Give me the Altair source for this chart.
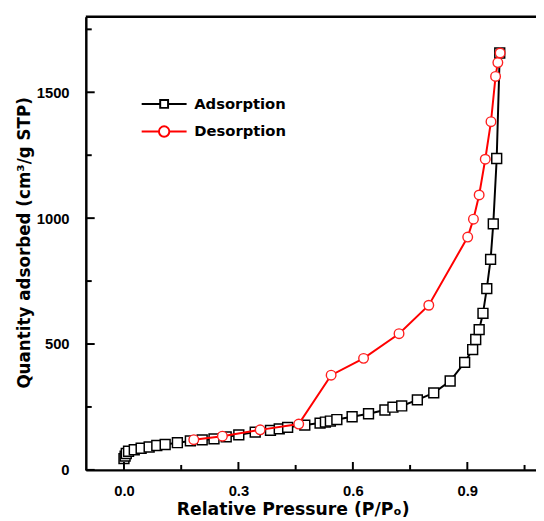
import altair as alt
import pandas as pd

# ---------------- data ----------------
series_names = ["Adsorption", "Desorption"]
series_colors = ["#000000", "#ff0000"]

ads_x = [0.000, 0.003, 0.006, 0.012, 0.027, 0.045, 0.066, 0.086, 0.108, 0.140,
         0.174, 0.205, 0.236, 0.268, 0.301, 0.344, 0.384, 0.407, 0.429, 0.474,
         0.514, 0.528, 0.541, 0.558, 0.598, 0.641, 0.684, 0.705, 0.728, 0.769,
         0.812, 0.855, 0.893, 0.914, 0.922, 0.931, 0.941, 0.951, 0.961, 0.968,
         0.977, 0.985]
ads_y = [45, 55, 65, 74, 80, 86, 91, 97, 101, 108,
         115, 119, 123, 131, 139, 150, 157, 163, 169, 178,
         186, 190, 194, 200, 211, 223, 238, 249, 254, 278,
         306, 353, 427, 478, 518, 557, 622, 720, 836, 977,
         1237, 1656]

des_x = [0.183, 0.258, 0.357, 0.458, 0.543, 0.628, 0.721, 0.799, 0.901, 0.916,
         0.931, 0.947, 0.962, 0.974, 0.980, 0.986]
des_y = [120, 134, 159, 182, 376, 443, 541, 654, 925, 996,
         1092, 1234, 1383, 1563, 1618, 1656]

x_major = [0.0, 0.3, 0.6, 0.9]
x_minor = [0.15, 0.45, 0.75, 1.05]
y_major = [0, 500, 1000, 1500]
y_minor = [250, 750, 1250, 1750]
X_DOMAIN = [-0.1, 1.08]
Y_DOMAIN = [0, 1800]

# legend symbols: line - marker - line
legend_paths = [
    "M-2.85,0H-0.5M0.5,0H2.85M-0.5,-0.5H0.5V0.5H-0.5Z",
    "M-2.85,0H-0.66M0.66,0H2.85M0.66,0A0.66,0.66,0,1,1,-0.66,0A0.66,0.66,0,1,1,0.66,0Z",
]

W, H = 457, 460

ads = pd.DataFrame({"p": ads_x, "q": ads_y, "series": series_names[0]})
des = pd.DataFrame({"p": des_x, "q": des_y, "series": series_names[1]})
both = pd.concat([ads, des], ignore_index=True)

xt_major = pd.DataFrame({"p": x_major})
xt_minor = pd.DataFrame({"p": x_minor})
yt_major = pd.DataFrame({"q": y_major})
yt_minor = pd.DataFrame({"q": y_minor})
top_df = pd.DataFrame({"q": [Y_DOMAIN[1]]})

xs = alt.Scale(domain=X_DOMAIN, nice=False, zero=False)
ys = alt.Scale(domain=Y_DOMAIN, nice=False, zero=False)

x_axis = alt.Axis(
    values=x_major, format=".1f", title="Relative Pressure (P/Pₒ)",
    labelFont="Liberation Sans", labelFontSize=15, labelFontWeight="bold",
    labelColor="black", labelPadding=14, labelBaseline="top",
    titleFont="DejaVu Sans", titleFontSize=17.5, titleFontWeight="bold",
    titleColor="black", titleX=210, titleY=40, titleBaseline="middle",
    titleAlign="center", tickSize=0, ticks=False, grid=False,
    domainColor="black", domainWidth=2.5,
)
y_axis = alt.Axis(
    values=y_major, format="d", title="Quantity adsorbed (cm³/g STP)",
    labelFont="Liberation Sans", labelFontSize=15, labelFontWeight="bold",
    labelColor="black", labelPadding=17,
    titleFont="DejaVu Sans", titleFontSize=17, titleFontWeight="bold",
    titleColor="black", titleX=-62, titleY=229, titleAngle=-90,
    titleBaseline="middle", titleAlign="center",
    tickSize=0, ticks=False, grid=False,
    domainColor="black", domainWidth=2.5,
)


def X(f="p:Q"):
    return alt.X(f, scale=xs, axis=x_axis)


def Y(f="q:Q"):
    return alt.Y(f, scale=ys, axis=y_axis)


ads_line = alt.Chart(ads).mark_line(color="black", strokeWidth=2).encode(x=X(), y=Y(), order="p:Q")
ads_pts = alt.Chart(ads).mark_point(
    shape="square", filled=True, fill="white", fillOpacity=1, stroke="black",
    strokeWidth=1.5, size=100, opacity=1
).encode(x=X(), y=Y())
des_line = alt.Chart(des).mark_line(color="#ff0000", strokeWidth=2).encode(x=X(), y=Y(), order="p:Q")
des_pts = alt.Chart(des).mark_point(
    shape="circle", filled=True, fill="white", fillOpacity=1, stroke="#ff2020",
    strokeWidth=1.4, size=95, opacity=1
).encode(x=X(), y=Y())

leg_props = dict(
    title=None, orient="none", legendX=70.5, legendY=79.5,
    labelFont="DejaVu Sans", labelFontSize=15, labelFontWeight="bold",
    labelColor="black", labelOffset=21.5, rowPadding=10,
    symbolSize=256, symbolStrokeWidth=2, padding=0,
)
legend_layer = alt.Chart(both).transform_filter("false").mark_point(
    filled=False, strokeWidth=2, opacity=1
).encode(
    x=X(), y=Y(),
    color=alt.Color("series:N", scale=alt.Scale(domain=series_names, range=series_colors),
                    legend=alt.Legend(**leg_props)),
    shape=alt.Shape("series:N", scale=alt.Scale(domain=series_names, range=legend_paths),
                    legend=alt.Legend(**leg_props)),
)

# inward ticks
xt1 = alt.Chart(xt_major).mark_rule(color="black", strokeWidth=2).encode(
    x=X(), y=alt.value(H), y2=alt.value(H - 8))
xt2 = alt.Chart(xt_minor).mark_rule(color="black", strokeWidth=2).encode(
    x=X(), y=alt.value(H), y2=alt.value(H - 5))
yt1 = alt.Chart(yt_major).mark_rule(color="black", strokeWidth=2).encode(
    y=Y(), x=alt.value(0), x2=alt.value(9))
yt2 = alt.Chart(yt_minor).mark_rule(color="black", strokeWidth=2).encode(
    y=Y(), x=alt.value(0), x2=alt.value(6))
top_line = alt.Chart(top_df).mark_rule(color="black", strokeWidth=2.5).encode(y=Y())

chart = alt.layer(
    ads_line, ads_pts, des_line, des_pts, legend_layer,
    xt1, xt2, yt1, yt2, top_line
).properties(
    width=W, height=H,
    autosize=alt.AutoSizeParams(type="none"),
    padding={"left": 79, "top": 5, "right": 0, "bottom": 48},
    background="white",
).configure_view(stroke=None)

chart.save("out.html", embed_options={"renderer": "svg", "actions": False})
